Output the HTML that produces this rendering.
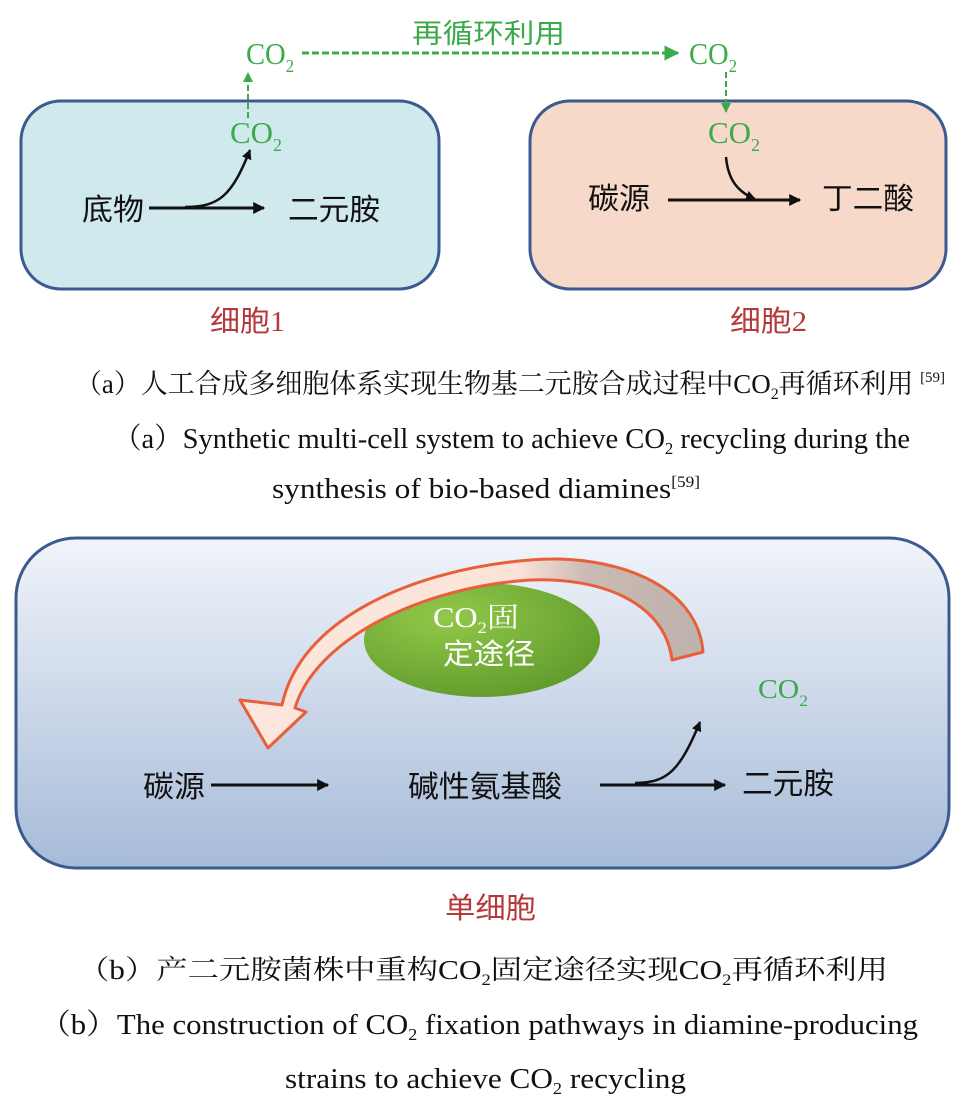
<!DOCTYPE html>
<html><head><meta charset="utf-8"><style>
html,body{margin:0;padding:0;background:#fff;}
svg{display:block;}
.s{font-family:"Liberation Serif","Noto Serif CJK SC","Noto Sans CJK SC",serif;}
.k{font-family:"Liberation Serif","Noto Sans CJK SC",sans-serif;}
</style></head><body>
<svg width="969" height="1101" viewBox="0 0 969 1101" xmlns="http://www.w3.org/2000/svg">
<defs>
<marker id="ag" viewBox="0 0 10 10" refX="9" refY="5" markerWidth="5" markerHeight="5" orient="auto"><path d="M0,0L10,5L0,10z" fill="#3aaa4a"/></marker>
<marker id="ab" viewBox="0 0 10 10" refX="9" refY="5" markerWidth="4" markerHeight="4" orient="auto"><path d="M0,0L10,5L0,10z" fill="#111"/></marker>
<linearGradient id="bg3" x1="0" y1="0" x2="0" y2="1"><stop offset="0" stop-color="#f1f4fa"/><stop offset="1" stop-color="#a6bbd8"/></linearGradient>
<linearGradient id="arc" x1="0" y1="0" x2="1" y2="0"><stop offset="0" stop-color="#fde7dd"/><stop offset="0.6" stop-color="#fbe3d8"/><stop offset="0.75" stop-color="#c9bab4"/><stop offset="1" stop-color="#bfb1ab"/></linearGradient>
<radialGradient id="gr" cx="0.35" cy="0.3" r="0.8"><stop offset="0" stop-color="#92c84a"/><stop offset="1" stop-color="#5e9a2a"/></radialGradient>
</defs>

<rect x="21" y="101" width="418" height="188" rx="40" fill="#d0e9ec" stroke="#3b5a8f" stroke-width="3"/>
<rect x="530" y="101" width="416" height="188" rx="40" fill="#f7d9c9" stroke="#3b5a8f" stroke-width="3"/>

<text x="412" y="43" class="k" font-size="27" fill="#3aaa4a" textLength="153" lengthAdjust="spacingAndGlyphs">再循环利用</text>
<text x="246" y="64" class="s" font-size="31" fill="#3aaa4a" textLength="48" lengthAdjust="spacingAndGlyphs">CO<tspan font-size="18" dy="8">2</tspan></text>
<text x="689" y="64" class="s" font-size="31" fill="#3aaa4a" textLength="48" lengthAdjust="spacingAndGlyphs">CO<tspan font-size="18" dy="8">2</tspan></text>
<line x1="302" y1="53" x2="678" y2="53" stroke="#3aaa4a" stroke-width="3" stroke-dasharray="7,3" marker-end="url(#ag)"/>
<line x1="248" y1="118" x2="248" y2="73" stroke="#3aaa4a" stroke-width="2" stroke-dasharray="6,3" marker-end="url(#ag)"/>
<line x1="726" y1="72" x2="726" y2="112" stroke="#3aaa4a" stroke-width="2" stroke-dasharray="6,3" marker-end="url(#ag)"/>
<text x="230" y="143" class="s" font-size="31" fill="#3aaa4a" textLength="52" lengthAdjust="spacingAndGlyphs">CO<tspan font-size="18" dy="8">2</tspan></text>
<text x="708" y="143" class="s" font-size="31" fill="#3aaa4a" textLength="52" lengthAdjust="spacingAndGlyphs">CO<tspan font-size="18" dy="8">2</tspan></text>

<text x="82" y="220" class="k" font-size="30" fill="#111" textLength="62" lengthAdjust="spacingAndGlyphs">底物</text>
<line x1="149" y1="208" x2="264" y2="208" stroke="#111" stroke-width="3" marker-end="url(#ab)"/>
<path d="M185,207 C220,207 232,195 250,150" fill="none" stroke="#111" stroke-width="2.5" marker-end="url(#ab)"/>
<text x="288" y="220" class="k" font-size="30" fill="#111" textLength="92" lengthAdjust="spacingAndGlyphs">二元胺</text>

<text x="588" y="209" class="k" font-size="30" fill="#111" textLength="62" lengthAdjust="spacingAndGlyphs">碳源</text>
<line x1="668" y1="200" x2="800" y2="200" stroke="#111" stroke-width="3" marker-end="url(#ab)"/>
<path d="M726,157 C728,180 738,192 755,199" fill="none" stroke="#111" stroke-width="2.5" marker-end="url(#ab)"/>
<text x="822" y="209" class="k" font-size="30" fill="#111" textLength="92" lengthAdjust="spacingAndGlyphs">丁二酸</text>

<text x="210" y="331" class="k" font-size="29" fill="#b5393b" textLength="75" lengthAdjust="spacingAndGlyphs">细胞1</text>
<text x="730" y="331" class="k" font-size="29" fill="#b5393b" textLength="77" lengthAdjust="spacingAndGlyphs">细胞2</text>

<text x="75" y="393" class="s" font-size="27" fill="#111" textLength="870" lengthAdjust="spacingAndGlyphs">（a）人工合成多细胞体系实现生物基二元胺合成过程中CO<tspan font-size="16" dy="6">2</tspan><tspan dy="-6">再循环利用 </tspan><tspan font-size="15" dy="-11">[59]</tspan></text>
<text x="113" y="448" class="s" font-size="29" fill="#111" textLength="797" lengthAdjust="spacingAndGlyphs">（a）Synthetic multi-cell system to achieve CO<tspan font-size="17" dy="6">2</tspan><tspan dy="-6"> recycling during the</tspan></text>
<text x="272" y="498" class="s" font-size="29" fill="#111" textLength="428" lengthAdjust="spacingAndGlyphs">synthesis of bio-based diamines<tspan font-size="16" dy="-11">[59]</tspan></text>

<rect x="16" y="538" width="933" height="330" rx="60" fill="url(#bg3)" stroke="#3b5a8f" stroke-width="3"/>
<ellipse cx="482" cy="640" rx="118" ry="57" fill="url(#gr)"/>
<path d="M703,652 C698,585 615,553 530,560 C410,570 300,620 282,705 L240,700 L268,748 L306,712 L295,708 C315,640 420,587 530,580 C600,577 665,602 672,660 Z" fill="url(#arc)" stroke="#e8603a" stroke-width="3" stroke-linejoin="round"/>
<text x="433" y="627" class="s" font-size="28" fill="#fff" textLength="86" lengthAdjust="spacingAndGlyphs">CO<tspan font-size="16" dy="6">2</tspan><tspan dy="-6">固</tspan></text>
<text x="443" y="664" class="k" font-size="29" fill="#fff" textLength="92" lengthAdjust="spacingAndGlyphs">定途径</text>
<text x="758" y="698" class="s" font-size="27" fill="#3aaa4a" textLength="50" lengthAdjust="spacingAndGlyphs">CO<tspan font-size="16" dy="8">2</tspan></text>

<text x="143" y="797" class="k" font-size="30" fill="#111" textLength="62" lengthAdjust="spacingAndGlyphs">碳源</text>
<line x1="211" y1="785" x2="328" y2="785" stroke="#111" stroke-width="3" marker-end="url(#ab)"/>
<text x="408" y="797" class="k" font-size="30" fill="#111" textLength="154" lengthAdjust="spacingAndGlyphs">碱性氨基酸</text>
<line x1="600" y1="785" x2="725" y2="785" stroke="#111" stroke-width="3" marker-end="url(#ab)"/>
<path d="M635,783 C668,783 680,770 700,722" fill="none" stroke="#111" stroke-width="2.5" marker-end="url(#ab)"/>
<text x="742" y="794" class="k" font-size="30" fill="#111" textLength="92" lengthAdjust="spacingAndGlyphs">二元胺</text>

<text x="445" y="918" class="k" font-size="29" fill="#b5393b" textLength="91" lengthAdjust="spacingAndGlyphs">单细胞</text>

<text x="78" y="979" class="s" font-size="27" fill="#111" textLength="810" lengthAdjust="spacingAndGlyphs">（b）产二元胺菌株中重构CO<tspan font-size="16" dy="6">2</tspan><tspan dy="-6">固定途径实现CO</tspan><tspan font-size="16" dy="6">2</tspan><tspan dy="-6">再循环利用</tspan></text>
<text x="40" y="1034" class="s" font-size="29" fill="#111" textLength="878" lengthAdjust="spacingAndGlyphs">（b）The construction of CO<tspan font-size="17" dy="6">2</tspan><tspan dy="-6"> fixation pathways in diamine-producing</tspan></text>
<text x="285" y="1088" class="s" font-size="29" fill="#111" textLength="401" lengthAdjust="spacingAndGlyphs">strains to achieve CO<tspan font-size="17" dy="6">2</tspan><tspan dy="-6"> recycling</tspan></text>
</svg>
</body></html>
